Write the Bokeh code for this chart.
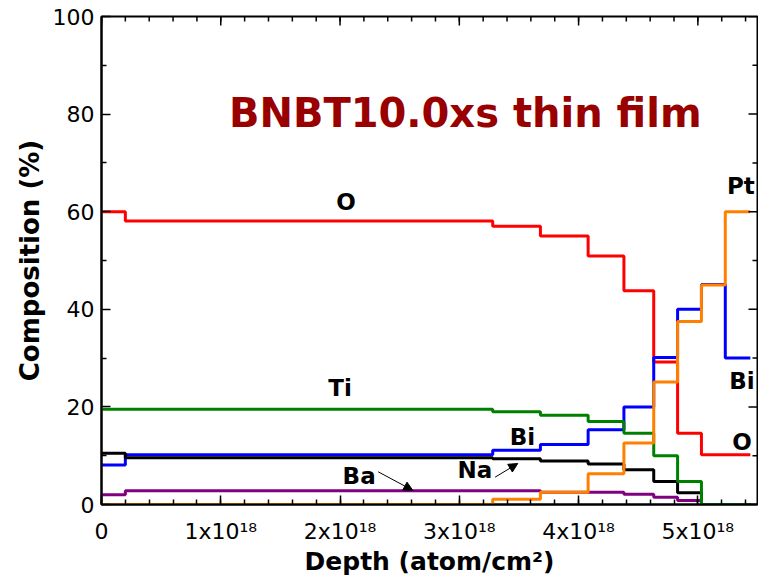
from bokeh.plotting import figure
from bokeh.models import FixedTicker, Arrow, NormalHead, ColumnDataSource
from bokeh.core.properties import value
from bokeh.embed import file_html
from bokeh.resources import INLINE

# depth layer boundaries, in units of 1e18 atom/cm^2
depth_edges = [0.0, 0.2, 3.28, 3.68, 4.08, 4.38, 4.63, 4.83, 5.03, 5.23, 5.44]

# composition (%) of each layer
comp_O  = [60.0, 58.1, 57.0, 55.0, 50.9, 43.8, 29.2, 14.6, 10.2, 10.2]
comp_Bi = [8.1, 10.2, 11.1, 12.3, 15.3, 20.0, 30.1, 40.0, 45.1, 30.0]
comp_Na = [10.5, 9.6, 9.4, 8.9, 8.3, 7.1, 4.7, 2.4, 0.0, 0.0]
comp_Ba = [2.0, 2.8, 2.8, 2.5, 2.5, 2.1, 1.5, 0.8, 0.0, 0.0]
comp_Ti = [19.5, 19.5, 19.0, 18.3, 17.0, 14.6, 10.0, 4.7, 0.0, 0.0]
comp_Pt = [0.0, 0.0, 1.1, 2.5, 6.3, 12.6, 25.1, 37.5, 45.0, 60.0]

x_ticks = [0, 1, 2, 3, 4, 5]
x_tick_labels = ["0", "1x10\u00b9\u2078", "2x10\u00b9\u2078", "3x10\u00b9\u2078",
                 "4x10\u00b9\u2078", "5x10\u00b9\u2078"]
x_minor_ticks = [i * 0.2 for i in range(28)]
y_ticks = [0, 20, 40, 60, 80, 100]
y_minor_ticks = [10, 30, 50, 70, 90]

# annotation texts and their anchor positions (data units)
label_text = ["O", "Ti", "Bi", "Na", "Ba", "Pt", "Bi", "O"]
label_x = [2.05, 2.0, 3.53, 3.13, 2.16, 5.36, 5.37, 5.37]
label_y = [61.9, 23.8, 13.9, 7.1, 5.8, 65.2, 25.3, 12.9]

FONT = "DejaVu Sans"
X_MAX, Y_MAX = 5.5, 100

p = figure(width=758, height=580, x_range=(0, X_MAX), y_range=(0, Y_MAX),
           output_backend="svg", toolbar_location=None,
           min_border_left=101, min_border_right=1, min_border_top=16,
           min_border_bottom=76)
p.background_fill_color = "white"
p.border_fill_color = "white"
p.xgrid.visible = False
p.ygrid.visible = False
p.outline_line_color = "black"
p.outline_line_width = 2

series = [
    (comp_O, "#FF0000"),
    (comp_Bi, "#0000FF"),
    (comp_Na, "#000000"),
    (comp_Ba, "#800080"),
    (comp_Ti, "#008000"),
    (comp_Pt, "#FF8000"),
]
for vals, color in series:
    p.step(depth_edges, vals + [vals[-1]], mode="after",
           line_color=color, line_width=3)

xt = FixedTicker(ticks=x_ticks, minor_ticks=x_minor_ticks)
yt = FixedTicker(ticks=y_ticks, minor_ticks=y_minor_ticks)

def style_axis(ax):
    ax.axis_line_width = 2
    ax.axis_line_color = "black"
    ax.major_tick_in = 9
    ax.major_tick_out = 0
    ax.minor_tick_in = 5
    ax.minor_tick_out = 0
    ax.major_tick_line_width = 1.5
    ax.minor_tick_line_width = 1.5
    ax.major_tick_line_color = "black"
    ax.minor_tick_line_color = "black"

xa = p.xaxis[0]
xa.ticker = xt
xa.major_label_overrides = {t: s for t, s in zip(x_ticks, x_tick_labels)}
style_axis(xa)
xa.major_label_text_font = FONT
xa.major_label_text_font_size = "22px"
xa.major_label_text_color = "black"
xa.major_label_standoff = 14
xa.axis_label = "Depth (atom/cm\u00b2)"
xa.axis_label_text_font = FONT
xa.axis_label_text_font_style = "bold"
xa.axis_label_text_font_size = "25px"
xa.axis_label_text_color = "black"
xa.axis_label_standoff = 0

ya = p.yaxis[0]
ya.ticker = yt
style_axis(ya)
ya.major_label_text_font = FONT
ya.major_label_text_font_size = "22px"
ya.major_label_text_color = "black"
ya.major_label_standoff = 7
ya.axis_label = "Composition (%)"
ya.axis_label_text_font = FONT
ya.axis_label_text_font_style = "bold"
ya.axis_label_text_font_size = "26px"
ya.axis_label_text_color = "black"
ya.axis_label_standoff = 5

# inward ticks on the top and right frame edges
maj_x = 9 * X_MAX / 656.0
min_x = 5 * X_MAX / 656.0
maj_y = 9 * Y_MAX / 488.0
min_y = 5 * Y_MAX / 488.0
p.segment(x0=x_ticks, y0=[Y_MAX] * len(x_ticks), x1=x_ticks,
          y1=[Y_MAX - maj_y] * len(x_ticks), line_color="black", line_width=1.5)
p.segment(x0=x_minor_ticks, y0=[Y_MAX] * len(x_minor_ticks), x1=x_minor_ticks,
          y1=[Y_MAX - min_y] * len(x_minor_ticks), line_color="black", line_width=1.5)
p.segment(x0=[X_MAX] * len(y_ticks), y0=y_ticks, x1=[X_MAX - maj_x] * len(y_ticks),
          y1=y_ticks, line_color="black", line_width=1.5)
p.segment(x0=[X_MAX] * len(y_minor_ticks), y0=y_minor_ticks,
          x1=[X_MAX - min_x] * len(y_minor_ticks), y1=y_minor_ticks,
          line_color="black", line_width=1.5)

# element labels
src = ColumnDataSource(dict(x=label_x, y=label_y, t=label_text))
p.text(x="x", y="y", text="t", source=src, text_font=value(FONT),
       text_font_style="bold", text_font_size="23px", text_color="black",
       text_align="center", text_baseline="middle")

# title inside the plot
p.text(x=[3.05], y=[80.2], text=["BNBT10.0xs thin film"], text_font=value(FONT),
       text_font_style="bold", text_font_size="40px", text_color="#990000",
       text_align="center", text_baseline="middle")

# arrows pointing to Ba and Na lines
p.add_layout(Arrow(x_start=2.32, y_start=6.7, x_end=2.61, y_end=2.9,
                   line_width=1, line_color="black",
                   end=NormalHead(size=9, fill_color="black", line_color="black")))
p.add_layout(Arrow(x_start=3.3, y_start=5.6, x_end=3.49, y_end=8.4,
                   line_width=1, line_color="black",
                   end=NormalHead(size=9, fill_color="black", line_color="black")))

open("out.html", "w").write(file_html(p, INLINE))
